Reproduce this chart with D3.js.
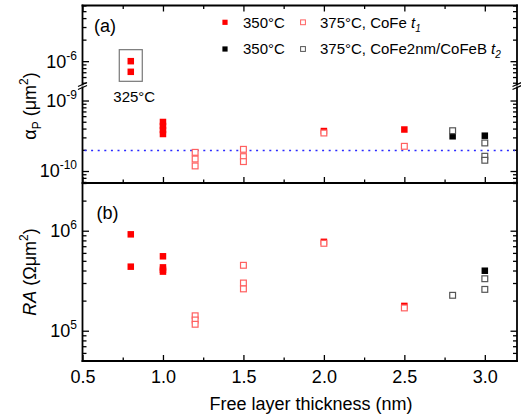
<!DOCTYPE html>
<html>
<head>
<meta charset="utf-8">
<script src="https://cdn.jsdelivr.net/npm/d3@7"></script>
<style>
  html, body { margin: 0; padding: 0; background: #fff; }
  svg { display: block; }
</style>
</head>
<body>
<div id="chart"></div>
<script>
// ---------------- data ----------------
const xMajorTicks = [0.5, 1.0, 1.5, 2.0, 2.5, 3.0];
const xMinorTicks = [0.75, 1.25, 1.75, 2.25, 2.75];

// panel (a): alpha_P (um^2), [thickness nm, value]
const alpha325 = [[0.8, 1.0e-6], [0.8, 7.1e-7]];
const alphaRed350 = [[1.0, 4.96e-10], [1.0, 4.35e-10], [1.0, 3.82e-10], [1.0, 3.35e-10], [2.0, 3.69e-10], [2.5, 3.88e-10]];
const alphaRed375 = [[1.2, 1.84e-10], [1.2, 1.48e-10], [1.2, 1.18e-10], [1.5, 2.03e-10], [1.5, 1.60e-10], [1.5, 1.36e-10], [2.0, 3.46e-10], [2.5, 2.24e-10]];
const alphaBlack350 = [[2.8, 3.11e-10], [3.0, 3.17e-10]];
const alphaBlack375 = [[2.8, 3.73e-10], [3.0, 2.50e-10], [3.0, 1.62e-10], [3.0, 1.42e-10]];
const alphaLimit = 1.95e-10;

// panel (b): RA (Ohm um^2)
const raRed350 = [[0.8, 9.2e5], [0.8, 4.37e5], [1.0, 5.55e5], [1.0, 4.3e5], [1.0, 4.07e5], [1.0, 3.9e5], [2.0, 7.74e5], [2.5, 1.77e5]];
const raRed375 = [[1.2, 1.41e5], [1.2, 1.28e5], [1.2, 1.16e5], [1.5, 4.51e5], [1.5, 3.0e5], [1.5, 2.62e5], [2.0, 7.48e5], [2.5, 1.69e5]];
const raBlack350 = [[3.0, 3.98e5]];
const raBlack375 = [[2.8, 2.26e5], [3.0, 3.31e5], [3.0, 2.59e5]];

const legendItems = [
  { kind: "filled", color: "#ff0000", text: "350°C" },
  { kind: "open", color: "#ff6060", text: "375°C, CoFe ", sub: "1" },
  { kind: "filled", color: "#000000", text: "350°C" },
  { kind: "open", color: "#555555", text: "375°C, CoFe2nm/CoFeB ", sub: "2" }
];

// ---------------- layout ----------------
const W = 521, H = 417;
const L = 82.5, R = 517;
const topY = 5.5, breakTop = 84.5, breakBot = 87.5, midY = 183, botY = 361;
const FONT = "'Liberation Sans', Arial, Helvetica, sans-serif";

const svg = d3.select("#chart").append("svg")
  .attr("width", W).attr("height", H)
  .style("font-family", FONT);

const xs = d3.scaleLinear().domain([0.5, 3.2]).range([L, R]);
const yUp = d3.scaleLog().domain([4.72e-7, 6.0e-6]).range([breakTop, topY]);
const yLow = d3.scaleLog().domain([6.76e-11, 1.53e-9]).range([midY, breakBot]);
const yRA = d3.scaleLog().domain([4.98e4, 3.0e6]).range([botY, midY]);

function logTicks(scale) {
  const [a, b] = scale.domain();
  const major = [], minor = [];
  for (let k = Math.floor(Math.log10(a)); k <= Math.ceil(Math.log10(b)); k++) {
    for (let m = 1; m <= 9; m++) {
      const v = m * Math.pow(10, k);
      if (v >= a * 0.999 && v <= b * 1.001) (m === 1 ? major : minor).push(v);
    }
  }
  return { major, minor };
}

const tickStroke = 1.3;
function styleAxis(g) {
  g.select(".domain").remove();
  g.selectAll(".tick line").attr("stroke", "#000").attr("stroke-width", tickStroke);
}

function yTicks(scale) {
  const t = logTicks(scale);
  svg.append("g").attr("transform", `translate(${L},0)`)
    .call(d3.axisLeft(scale).tickValues(t.major).tickSize(-6.5).tickFormat("")).call(styleAxis);
  svg.append("g").attr("transform", `translate(${L},0)`)
    .call(d3.axisLeft(scale).tickValues(t.minor).tickSize(-4).tickFormat("")).call(styleAxis);
  svg.append("g").attr("transform", `translate(${R},0)`)
    .call(d3.axisRight(scale).tickValues(t.major).tickSize(-6.5).tickFormat("")).call(styleAxis);
  svg.append("g").attr("transform", `translate(${R},0)`)
    .call(d3.axisRight(scale).tickValues(t.minor).tickSize(-4).tickFormat("")).call(styleAxis);
  // labels
  t.major.forEach(v => {
    const e = Math.round(Math.log10(v));
    const tx = svg.append("text").attr("x", 77).attr("y", scale(v) + 6.4)
      .attr("text-anchor", "end").attr("font-size", 18).attr("fill", "#000");
    tx.append("tspan").text("10");
    tx.append("tspan").attr("dy", -8).attr("font-size", 12).text(String(e).replace("-", "-"));
  });
}

// x ticks
function xTicks(y, dir, labels) {
  const ax = dir === "top" ? d3.axisTop : d3.axisBottom;
  const sign = -1;
  svg.append("g").attr("transform", `translate(0,${y})`)
    .call(ax(xs).tickValues(xMinorTicks).tickSize(sign * 3.5).tickFormat("")).call(styleAxis);
  const g = svg.append("g").attr("transform", `translate(0,${y})`)
    .call(ax(xs).tickValues(xMajorTicks).tickSize(sign * 6)
      .tickPadding(9)
      .tickFormat(labels ? d3.format(".1f") : ""));
  g.call(styleAxis);
  if (labels) g.selectAll(".tick text").attr("font-size", 18).attr("font-family", FONT).attr("fill", "#000");
}

xTicks(topY, "top", false);
xTicks(midY, "bottom", false);
xTicks(botY, "bottom", true);
yTicks(yUp);
yTicks(yLow);
yTicks(yRA);

// ---------------- frame ----------------
const fw = 1.8;
const frame = svg.append("g").attr("stroke", "#000").attr("stroke-width", fw).attr("fill", "none");
[[L, topY, R, topY], [L, midY, R, midY], [L, botY, R, botY],
 [L, topY, L, breakTop], [L, breakBot, L, botY],
 [R, topY, R, breakTop], [R, breakBot, R, botY]].forEach(s => {
  frame.append("line").attr("x1", s[0]).attr("y1", s[1]).attr("x2", s[2]).attr("y2", s[3])
    .attr("stroke-linecap", "square");
});
// axis break marks
[L, R].forEach(x0 => {
  [breakTop, breakBot].forEach(yb => {
    svg.append("line").attr("x1", x0 - 4.5).attr("y1", yb + 2).attr("x2", x0 + 4.5).attr("y2", yb - 2)
      .attr("stroke", "#000").attr("stroke-width", 1.3);
  });
});

// ---------------- reference line ----------------
svg.append("line")
  .attr("x1", L + 2).attr("x2", R - 2)
  .attr("y1", yLow(alphaLimit)).attr("y2", yLow(alphaLimit))
  .attr("stroke", "#2a2aff").attr("stroke-width", 1.6)
  .attr("stroke-dasharray", "2,4.6");

// ---------------- markers ----------------
function filled(data, ys, color) {
  svg.append("g").selectAll("rect").data(data).enter().append("rect")
    .attr("x", d => xs(d[0]) - 3.25).attr("y", d => ys(d[1]) - 3.25)
    .attr("width", 6.5).attr("height", 6.5).attr("fill", color);
}
function open(data, ys, color) {
  svg.append("g").selectAll("rect").data(data).enter().append("rect")
    .attr("x", d => xs(d[0]) - 2.9).attr("y", d => ys(d[1]) - 2.9)
    .attr("width", 5.8).attr("height", 5.8).attr("fill", "#fff")
    .attr("stroke", color).attr("stroke-width", 1.2);
}

// panel a
filled(alpha325, yUp, "#ff0000");
filled(alphaRed350, yLow, "#ff0000");
filled(alphaBlack350, yLow, "#000");
open(alphaRed375, yLow, "#ff6060");
open(alphaBlack375, yLow, "#555");

// 325 C box + label
{
  const cx = xs(alpha325[0][0]);
  const ya = yUp(d3.max(alpha325, d => d[1]));
  const yb = yUp(d3.min(alpha325, d => d[1]));
  svg.append("rect").attr("x", cx - 11.5).attr("y", ya - 11.5)
    .attr("width", 23).attr("height", yb - ya + 21)
    .attr("fill", "none").attr("stroke", "#777").attr("stroke-width", 1.2);
  svg.append("text").attr("x", cx + 3.5).attr("y", 101.5).attr("text-anchor", "middle")
    .attr("font-size", 15).text("325°C");
}

// panel b
filled(raRed350, yRA, "#ff0000");
filled(raBlack350, yRA, "#000");
open(raRed375, yRA, "#ff6060");
open(raBlack375, yRA, "#555");

// ---------------- legend ----------------
const legX = [225, 303], legTextX = [243, 320], legY = [22.3, 49];
legendItems.forEach((it, i) => {
  const col = i % 2, row = Math.floor(i / 2);
  const mx = legX[col], my = legY[row];
  if (it.kind === "filled") {
    svg.append("rect").attr("x", mx - 2.6).attr("y", my - 2.6).attr("width", 5.2).attr("height", 5.2).attr("fill", it.color);
  } else {
    svg.append("rect").attr("x", mx - 2.4).attr("y", my - 2.4).attr("width", 4.8).attr("height", 4.8)
      .attr("fill", "#fff").attr("stroke", it.color).attr("stroke-width", 1);
  }
  const t = svg.append("text").attr("x", legTextX[col]).attr("y", my + 5.4).attr("font-size", 15);
  t.append("tspan").text(it.text);
  if (it.sub) {
    t.append("tspan").attr("font-style", "italic").text("t");
    t.append("tspan").attr("font-size", 10).attr("font-style", "italic").attr("dy", 4).text(it.sub);
  }
});

// ---------------- panel labels ----------------
svg.append("text").attr("x", 94).attr("y", 31.5).attr("font-size", 18).text("(a)");
svg.append("text").attr("x", 96.5).attr("y", 219.3).attr("font-size", 18).text("(b)");

// ---------------- axis titles ----------------
{
  const t = svg.append("text").attr("transform", "translate(36,106) rotate(-90)")
    .attr("text-anchor", "middle").attr("font-size", 18);
  t.append("tspan").text("α");
  t.append("tspan").attr("font-size", 12).attr("dy", 5).text("P");
  t.append("tspan").attr("dy", -5).text(" (μm");
  t.append("tspan").attr("font-size", 12).attr("dy", -8).text("2");
  t.append("tspan").attr("dy", 8).text(")");
}
{
  const t = svg.append("text").attr("transform", "translate(36,272) rotate(-90)")
    .attr("text-anchor", "middle").attr("font-size", 18);
  t.append("tspan").attr("font-style", "italic").text("RA");
  t.append("tspan").text(" (Ωμm");
  t.append("tspan").attr("font-size", 12).attr("dy", -8).text("2");
  t.append("tspan").attr("dy", 8).text(")");
}
svg.append("text").attr("x", 311).attr("y", 410).attr("text-anchor", "middle")
  .attr("font-size", 18).text("Free layer thickness (nm)");
</script>
</body>
</html>
